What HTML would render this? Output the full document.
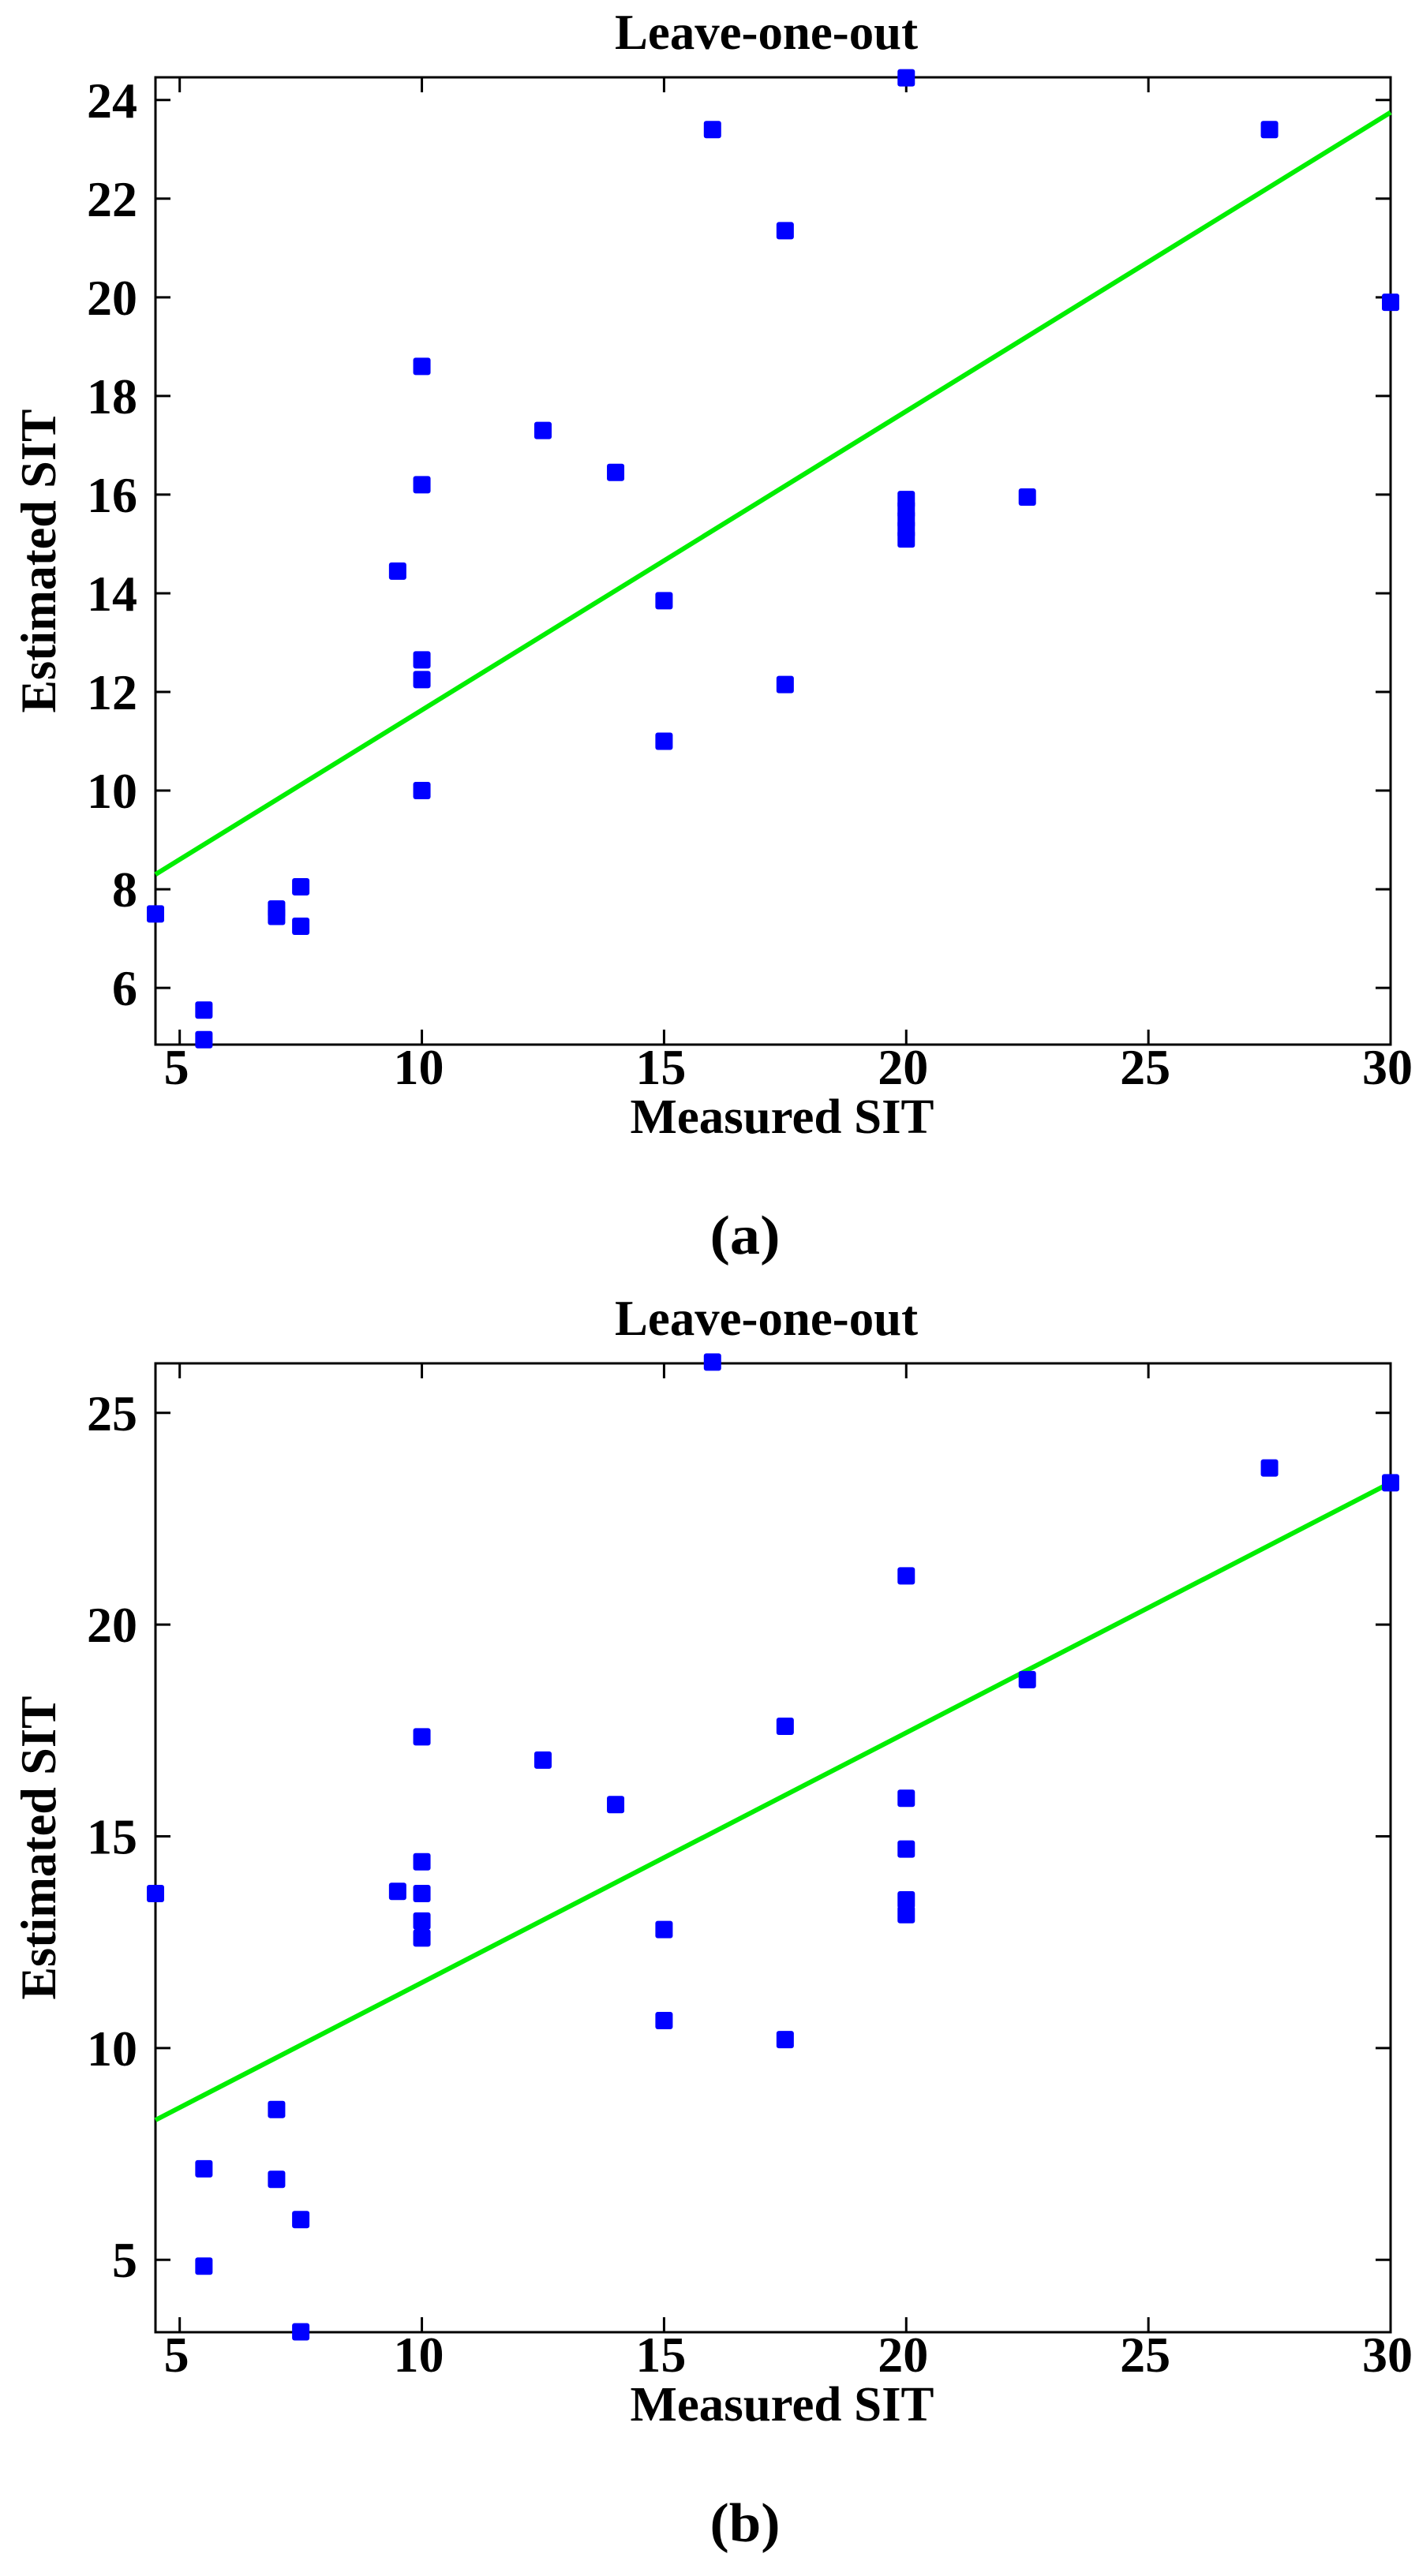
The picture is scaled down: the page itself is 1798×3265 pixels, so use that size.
<!DOCTYPE html>
<html><head><meta charset="utf-8"><style>
html,body{margin:0;padding:0;background:#fff;}
svg{display:block;}
text{font-family:"Liberation Serif",serif;fill:#000;}
</style></head><body>
<svg id="fig" width="1798" height="3265" viewBox="0 0 1798 3265" xmlns="http://www.w3.org/2000/svg"></svg>
<script>
// Panel (a) data
const xA = [4.5,5.5,5.5,7,7,7.5,7.5,9.5,10,10,10,10,10,12.5,14,15,15,16,17.5,17.5,20,20,20,20,20,20,22.5,27.5,30];
const yA = [7.5,5.55,4.95,7.6,7.45,8.05,7.25,14.45,18.6,16.2,12.65,12.25,10.0,17.3,16.45,13.85,11.0,23.4,21.35,12.15,24.45,15.9,15.7,15.5,15.3,15.1,15.95,23.4,19.9];
const fitA = [[4.5,8.3],[30,23.75]];
const yTicksA = [6,8,10,12,14,16,18,20,22,24];
// Panel (b) data
const xB = [4.5,5.5,5.5,7,7,7.5,7.5,9.5,10,10,10,10,10,12.5,14,15,15,16,17.5,17.5,20,20,20,20,20,22.5,27.5,30];
const yB = [13.65,7.15,4.85,8.55,6.9,5.95,3.3,13.7,17.35,14.4,13.65,13.0,12.6,16.8,15.75,12.8,10.65,26.2,17.6,10.2,21.15,15.9,14.7,13.5,13.15,18.7,23.7,23.35];
const fitB = [[4.5,8.3],[30,23.35]];
const yTicksB = [5,10,15,20,25];
const xTicks = [5,10,15,20,25,30];

const NS = "http://www.w3.org/2000/svg";
const svg = document.getElementById('fig');
function mk(tag, attrs, parent){
  const e = document.createElementNS(NS, tag);
  for (const k in attrs) e.setAttribute(k, attrs[k]);
  (parent||svg).appendChild(e);
  return e;
}
function panel(cfg){
  const g = mk('g', {});
  
  
  const L=197, R=1762, T=cfg.top, B=cfg.bottom;
  const sx = v => L + (v - 4.5) / (30 - 4.5) * (R - L);
  const sy = v => B - (v - cfg.ymin) / (cfg.ymax - cfg.ymin) * (B - T);
  // title
  const t = mk('text', {x:971, y:T-36, 'text-anchor':'middle', 'font-size':64, 'font-weight':'bold', textLength:384, lengthAdjust:'spacingAndGlyphs'}, g);
  t.textContent = 'Leave-one-out';
  
  
  // frame
  const fr = mk('rect', {x:L, y:T, width:R-L, height:B-T, fill:'none', stroke:'#000', 'stroke-width':3}, g);
  
  
  // x ticks
  xTicks.forEach(v => {
    const x = sx(v);
    mk('line', {x1:x, y1:B, x2:x, y2:B-19, stroke:'#000', 'stroke-width':3}, g);
    mk('line', {x1:x, y1:T, x2:x, y2:T+19, stroke:'#000', 'stroke-width':3}, g);
    const lb = mk('text', {x:x-4, y:B+50, 'text-anchor':'middle', 'font-size':64, 'font-weight':'bold'}, g);
    lb.textContent = v;
    
    
  });
  // y ticks
  cfg.yticks.forEach(v => {
    const y = sy(v);
    mk('line', {x1:L, y1:y, x2:L+19, y2:y, stroke:'#000', 'stroke-width':3}, g);
    mk('line', {x1:R, y1:y, x2:R-19, y2:y, stroke:'#000', 'stroke-width':3}, g);
    const lb = mk('text', {x:174, y:y+22, 'text-anchor':'end', 'font-size':64, 'font-weight':'bold'}, g);
    lb.textContent = v;
    
    
  });
  // axis titles
  const xt = mk('text', {x:991, y:B+112, 'text-anchor':'middle', 'font-size':62, 'font-weight':'bold', textLength:385, lengthAdjust:'spacingAndGlyphs'}, g);
  xt.textContent = 'Measured SIT';
  
  
  const cy = (T+B)/2;
  const yt = mk('text', {x:0, y:0, transform:`translate(70,${cy}) rotate(-90)`, 'text-anchor':'middle', 'font-size':64, 'font-weight':'bold', textLength:385, lengthAdjust:'spacingAndGlyphs'}, g);
  yt.textContent = 'Estimated SIT';
  
  
  // fit line
  const ln = mk('line', {x1:sx(cfg.fit[0][0]), y1:sy(cfg.fit[0][1]), x2:sx(cfg.fit[1][0]), y2:sy(cfg.fit[1][1]), stroke:'#00ee00', 'stroke-width':6}, g);
  
  
  // points
  cfg.xs.forEach((xv, i) => {
    const p = mk('rect', {x:sx(xv)-11, y:sy(cfg.ys[i])-11, width:22, height:22, rx:3, fill:'#0000ff'}, g);
    
    
  });
  // caption
  const cap = mk('text', {x:944, y:cfg.capY, 'text-anchor':'middle', 'font-size':70, 'font-weight':'bold', textLength:89, lengthAdjust:'spacingAndGlyphs'}, g);
  cap.textContent = '(' + cfg.id + ')';
  
  
}
panel({id:'a', top:98, bottom:1324, ymin:4.85, ymax:24.46, yticks:yTicksA, xs:xA, ys:yA, fit:fitA, capY:1589});
panel({id:'b', top:1728, bottom:2956, ymin:3.29, ymax:26.17, yticks:yTicksB, xs:xB, ys:yB, fit:fitB, capY:3221});
</script>
</body></html>
